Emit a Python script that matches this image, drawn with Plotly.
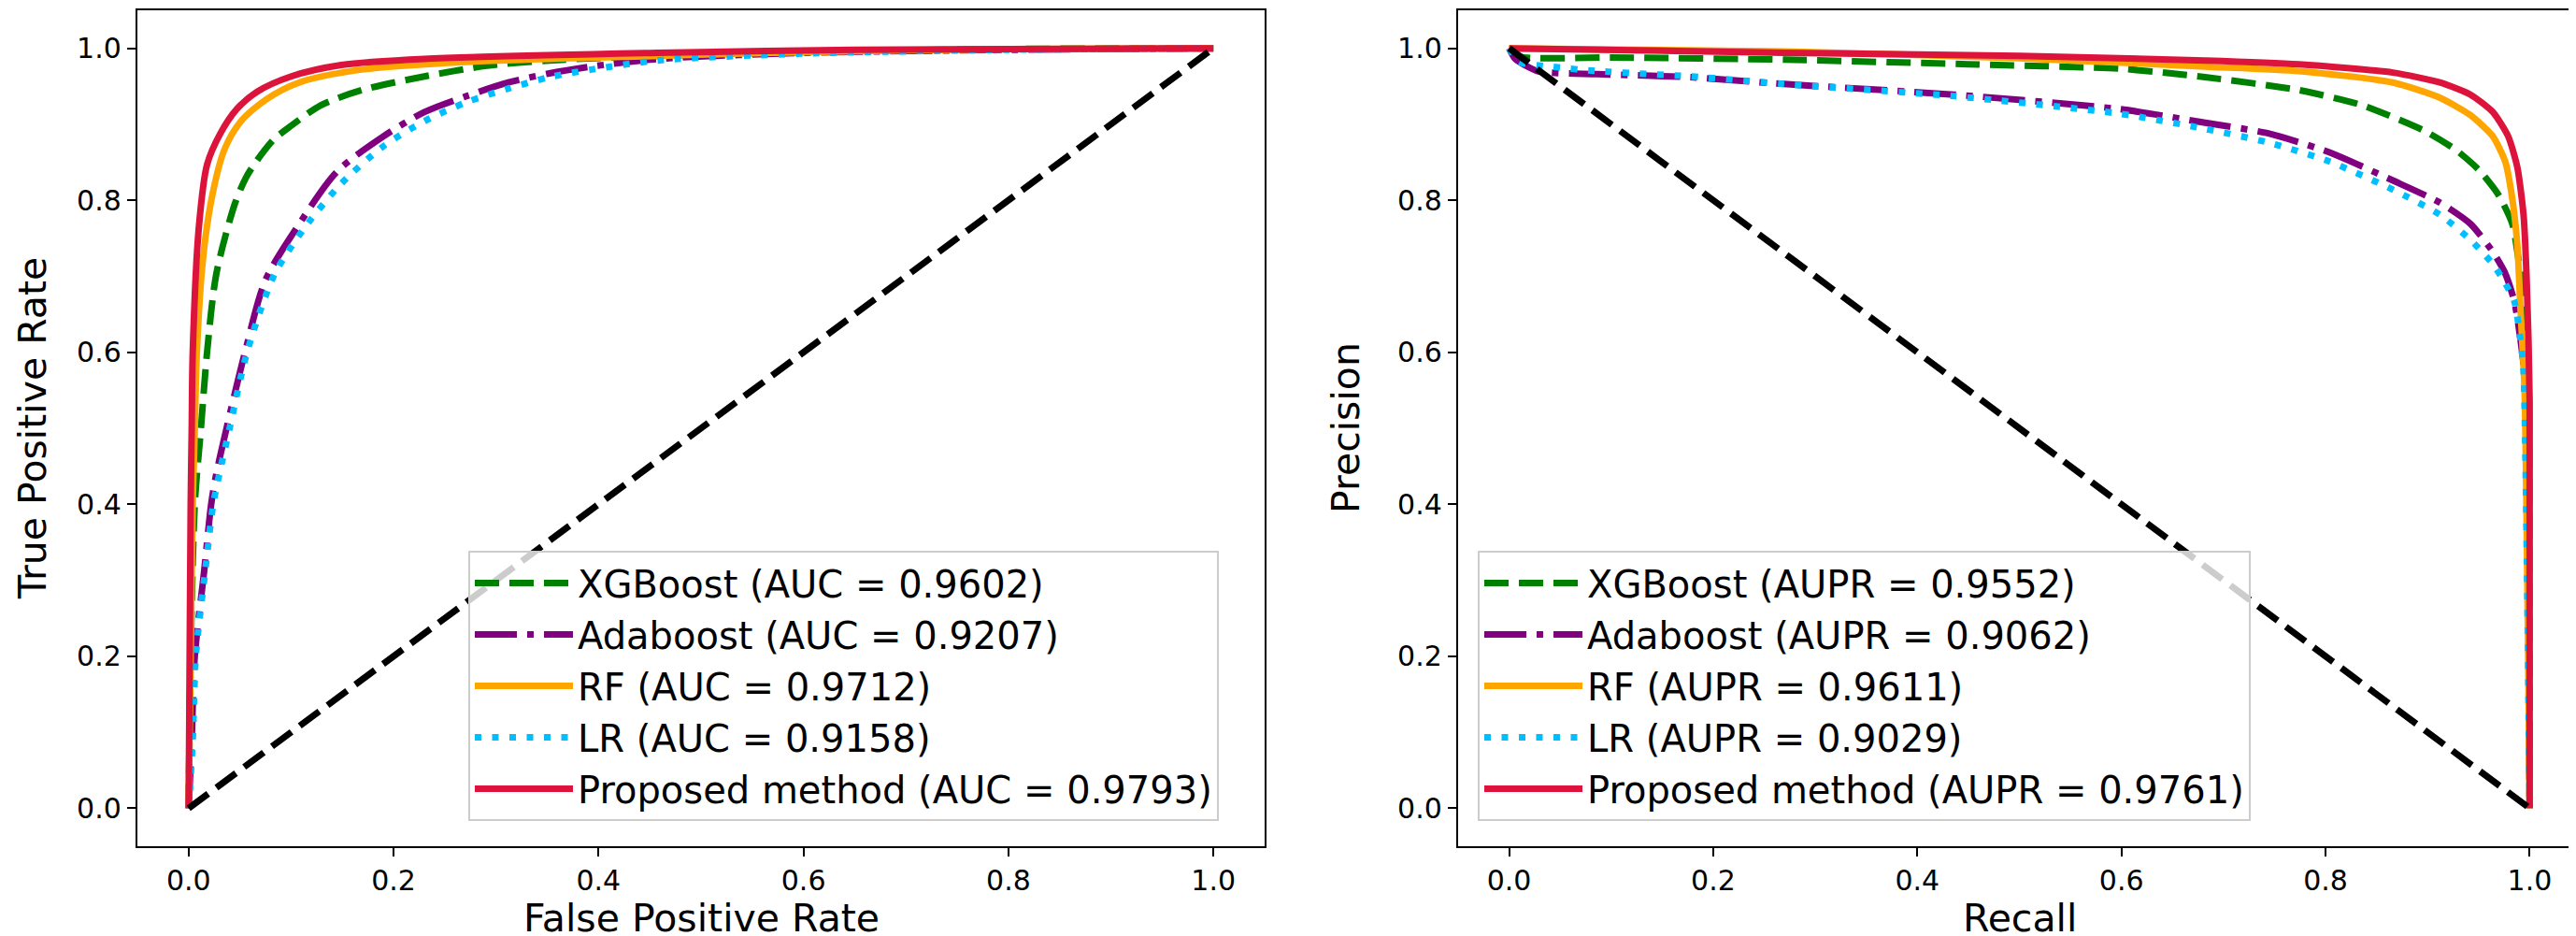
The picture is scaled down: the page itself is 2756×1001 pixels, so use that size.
import plotly.graph_objects as go

# values

# ROC panel: false positive rate / true positive rate
roc_xgb_fpr = [0, 0.002, 0.006, 0.012, 0.018, 0.027, 0.045, 0.056, 0.067, 0.083, 0.100, 0.129, 0.169, 0.230, 0.291, 0.352, 0.458, 0.60, 0.80, 1.0]
roc_xgb_tpr = [0, 0.20, 0.40, 0.50, 0.60, 0.703, 0.795, 0.830, 0.853, 0.880, 0.898, 0.925, 0.945, 0.963, 0.977, 0.984, 0.990, 0.995, 0.999, 1.0]

roc_ada_fpr = [0, 0.003, 0.006, 0.015, 0.022, 0.027, 0.037, 0.055, 0.075, 0.108, 0.145, 0.190, 0.230, 0.271, 0.312, 0.352, 0.393, 0.458, 0.60, 0.80, 1.0]
roc_ada_tpr = [0, 0.09, 0.20, 0.31, 0.40, 0.44, 0.50, 0.60, 0.695, 0.769, 0.838, 0.884, 0.916, 0.937, 0.955, 0.967, 0.976, 0.986, 0.994, 0.998, 1.0]

roc_rf_fpr = [0, 0.002, 0.004, 0.006, 0.008, 0.014, 0.023, 0.035, 0.051, 0.076, 0.108, 0.169, 0.271, 0.458, 0.60, 0.80, 1.0]
roc_rf_tpr = [0, 0.20, 0.40, 0.50, 0.60, 0.723, 0.806, 0.867, 0.904, 0.933, 0.955, 0.972, 0.982, 0.990, 0.995, 0.999, 1.0]

roc_lr_fpr = [0, 0.004, 0.007, 0.016, 0.024, 0.030, 0.040, 0.057, 0.084, 0.116, 0.149, 0.190, 0.230, 0.271, 0.312, 0.352, 0.393, 0.458, 0.60, 0.80, 1.0]
roc_lr_tpr = [0, 0.09, 0.20, 0.31, 0.40, 0.44, 0.50, 0.60, 0.703, 0.769, 0.822, 0.871, 0.904, 0.929, 0.947, 0.962, 0.972, 0.984, 0.993, 0.998, 1.0]

roc_prop_fpr = [0, 0.001, 0.002, 0.003, 0.004, 0.010, 0.018, 0.031, 0.047, 0.067, 0.100, 0.149, 0.230, 0.458, 0.65, 1.0]
roc_prop_tpr = [0, 0.20, 0.40, 0.50, 0.60, 0.765, 0.847, 0.888, 0.920, 0.943, 0.963, 0.978, 0.986, 0.994, 0.998, 1.0]

roc_diag_x = [0, 1]
roc_diag_y = [0, 1]

# PR panel: recall / precision
pr_xgb_rec = [0, 0.01, 0.10, 0.27, 0.45, 0.60, 0.682, 0.774, 0.836, 0.896, 0.927, 0.951, 0.970, 0.983, 0.988, 0.997, 0.999, 1.0]
pr_xgb_prec = [1.0, 0.989, 0.988, 0.985, 0.979, 0.973, 0.962, 0.945, 0.925, 0.892, 0.867, 0.839, 0.806, 0.769, 0.732, 0.637, 0.55, 0.0]

pr_ada_rec = [0, 0.006, 0.028, 0.086, 0.178, 0.269, 0.436, 0.598, 0.682, 0.744, 0.804, 0.866, 0.912, 0.942, 0.964, 0.976, 0.985, 0.991, 0.996, 1.0]
pr_ada_prec = [1.0, 0.986, 0.970, 0.966, 0.962, 0.953, 0.939, 0.920, 0.902, 0.888, 0.863, 0.826, 0.797, 0.769, 0.732, 0.704, 0.667, 0.617, 0.556, 0.0]

pr_rf_rec = [0, 0.27, 0.50, 0.682, 0.774, 0.866, 0.912, 0.942, 0.964, 0.976, 0.983, 0.988, 0.991, 0.995, 1.0]
pr_rf_prec = [1.0, 0.996, 0.987, 0.976, 0.970, 0.955, 0.935, 0.912, 0.884, 0.851, 0.802, 0.740, 0.658, 0.55, 0.0]

pr_lr_rec = [0, 0.01, 0.04, 0.086, 0.178, 0.269, 0.436, 0.598, 0.682, 0.744, 0.804, 0.866, 0.912, 0.942, 0.964, 0.976, 0.985, 0.991, 0.994, 1.0]
pr_lr_prec = [1.0, 0.982, 0.976, 0.970, 0.963, 0.953, 0.937, 0.914, 0.894, 0.876, 0.851, 0.814, 0.781, 0.748, 0.716, 0.691, 0.667, 0.617, 0.576, 0.0]

pr_prop_rec = [0, 0.27, 0.50, 0.682, 0.774, 0.866, 0.912, 0.942, 0.964, 0.979, 0.988, 0.994, 0.997, 1.0, 1.0]
pr_prop_prec = [1.0, 0.994, 0.990, 0.984, 0.979, 0.968, 0.955, 0.939, 0.916, 0.884, 0.843, 0.781, 0.699, 0.535, 0.0]

pr_diag_x = [0, 1]
pr_diag_y = [1, 0]

model_names = ["XGBoost", "Adaboost", "RF", "LR", "Proposed method"]
auc_values = ["0.9602", "0.9207", "0.9712", "0.9158", "0.9793"]
aupr_values = ["0.9552", "0.9062", "0.9611", "0.9029", "0.9761"]

tick_vals = [0, 0.2, 0.4, 0.6, 0.8, 1.0]
tick_text = ["0.0", "0.2", "0.4", "0.6", "0.8", "1.0"]

# styling
W, H = 2756, 1001
FONT = "DejaVu Sans"
LW = 7
colours = ["#008000", "#800080", "#FFA500", "#00BFFF", "#DC143C"]
dashes = ["26px,11px", "45px,11px,7px,11px", "solid", "7px,11.5px", "solid"]

roc_data = [(roc_xgb_fpr, roc_xgb_tpr), (roc_ada_fpr, roc_ada_tpr), (roc_rf_fpr, roc_rf_tpr),
            (roc_lr_fpr, roc_lr_tpr), (roc_prop_fpr, roc_prop_tpr)]
pr_data = [(pr_xgb_rec, pr_xgb_prec), (pr_ada_rec, pr_ada_prec), (pr_rf_rec, pr_rf_prec),
           (pr_lr_rec, pr_lr_prec), (pr_prop_rec, pr_prop_prec)]

fig = go.Figure()

# ROC curves, diagonal on top
for i in range(len(model_names)):
    x, y = roc_data[i]
    fig.add_trace(go.Scatter(x=x, y=y, mode="lines", xaxis="x", yaxis="y", legend="legend",
                             name=model_names[i] + " (AUC = " + auc_values[i] + ")",
                             line=dict(color=colours[i], width=LW, dash=dashes[i],
                                       shape="spline", smoothing=0.8)))
fig.add_trace(go.Scatter(x=roc_diag_x, y=roc_diag_y, mode="lines", xaxis="x", yaxis="y", showlegend=False,
                         line=dict(color="black", width=LW, dash="26px,11px")))

# PR curves
for i in range(len(model_names)):
    x, y = pr_data[i]
    fig.add_trace(go.Scatter(x=x, y=y, mode="lines", xaxis="x2", yaxis="y2", legend="legend2",
                             name=model_names[i] + " (AUPR = " + aupr_values[i] + ")",
                             line=dict(color=colours[i], width=LW, dash=dashes[i],
                                       shape="spline", smoothing=0.6)))
fig.add_trace(go.Scatter(x=pr_diag_x, y=pr_diag_y, mode="lines", xaxis="x2", yaxis="y2", showlegend=False,
                         line=dict(color="black", width=LW, dash="26px,11px")))

axis_style = dict(range=[-0.05, 1.05], showgrid=False, zeroline=False, showline=True,
                  linecolor="black", linewidth=2.4, mirror=True, ticks="outside",
                  ticklen=9, tickwidth=2.4, tickcolor="black",
                  tickvals=tick_vals, ticktext=tick_text,
                  tickfont=dict(family=FONT, size=30, color="black"), automargin=False)
title_font = dict(family=FONT, size=41, color="black")
y_dom = [1 - 897 / H, 1 - 3 / H]
x_dom1 = [139 / W, 1345 / W]
x_dom2 = [1552 / W, 2753 / W]

legend_style = dict(xanchor="left", yanchor="top", y=1 - 581 / H, itemwidth=105,
                    bgcolor="rgba(255,255,255,0.8)", bordercolor="#cccccc", borderwidth=2,
                    font=dict(family=FONT, size=40, color="black"), traceorder="normal")

# axis titles as annotations so they sit where the reference has them
titles = [
    dict(text="False Positive Rate", x=sum(x_dom1) / 2, y=0, xanchor="center", yanchor="bottom", yshift=2, textangle=0),
    dict(text="Recall", x=sum(x_dom2) / 2, y=0, xanchor="center", yanchor="bottom", yshift=2, textangle=0),
    dict(text="True Positive Rate", x=0, y=sum(y_dom) / 2, xanchor="left", yanchor="middle", xshift=2, textangle=-90),
    dict(text="Precision", x=1432 / W, y=sum(y_dom) / 2, xanchor="center", yanchor="middle", textangle=-90),
]
for t in titles:
    t.update(xref="paper", yref="paper", showarrow=False, font=title_font, borderpad=0)

fig.update_layout(
    width=W, height=H, template="none",
    margin=dict(l=0, r=0, t=0, b=0),
    paper_bgcolor="white", plot_bgcolor="white",
    font=dict(family=FONT, color="black"),
    xaxis=dict(axis_style, domain=x_dom1, anchor="y"),
    yaxis=dict(axis_style, domain=y_dom, anchor="x"),
    xaxis2=dict(axis_style, domain=x_dom2, anchor="y2"),
    yaxis2=dict(axis_style, domain=y_dom, anchor="x2"),
    legend=dict(legend_style, x=493 / W),
    legend2=dict(legend_style, x=1573 / W),
    annotations=titles,
)

fig.write_html("out.html")
